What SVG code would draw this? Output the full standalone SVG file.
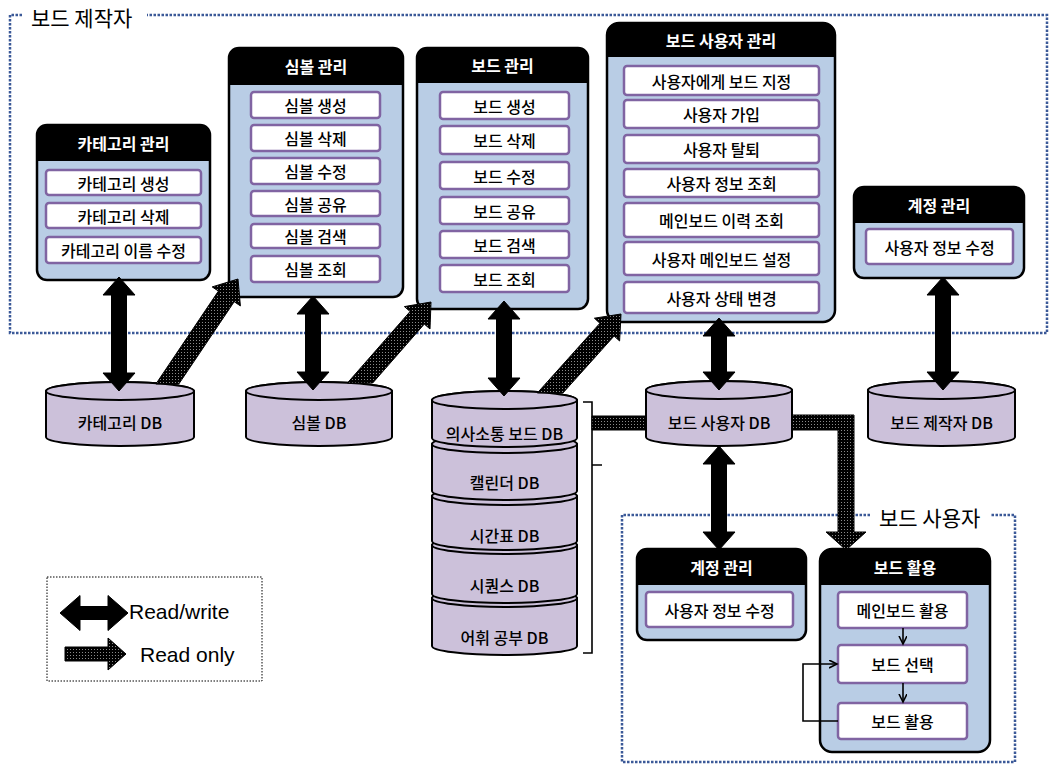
<svg xmlns="http://www.w3.org/2000/svg" width="1050" height="765" viewBox="0 0 1050 765">
<style>
.kr{font-family:"Noto Sans CJK KR","Noto Sans",sans-serif;text-anchor:middle;dominant-baseline:central}
.it{font-size:16px;font-weight:500;fill:#000}
.hd{font-size:16px;font-weight:bold;fill:#fff}
.ttl{font-size:21px;fill:#000;text-anchor:start}
.body{fill:#b9cde5;stroke:#000;stroke-width:2.5}
.head{fill:#000}
.item{fill:#fff;stroke:#8064a2;stroke-width:2.5}
.cyl{fill:#ccc1da;stroke:#000;stroke-width:2}
.frame{fill:none;stroke:#3b5998;stroke-width:2.5;stroke-dasharray:2.5 1.5}
.rw{fill:#000;stroke:#000;stroke-width:1}
.ro{fill:url(#dots);stroke:#000;stroke-width:1}
.thin{fill:none;stroke:#000;stroke-width:1.6}
.leg{font-family:"Liberation Sans",Arial,sans-serif;font-size:21px;fill:#000}
</style>
<defs>
<pattern id="dots" width="3" height="3" patternUnits="userSpaceOnUse">
<rect width="3" height="3" fill="#000"/>
<rect x="1" y="1" width="1" height="1" fill="#8a8a8a"/>
</pattern>
<marker id="v" markerWidth="10" markerHeight="10" refX="8" refY="4" orient="auto" markerUnits="userSpaceOnUse">
<path d="M0,0 L8,4 L0,8" fill="none" stroke="#000" stroke-width="1.6"/>
</marker>
</defs>
<rect width="1050" height="765" fill="#fff"/>

<g id="frame-maker">
<path class="frame" d="M22 15 H10 V333 H1047 V15 H147"/>
<text class="kr ttl" x="31" y="17">보드 제작자</text>
</g>
<g id="frame-user">
<path class="frame" d="M870 515 H622 V762 H1015 V515 H990"/>
<text class="kr ttl" x="879" y="517">보드 사용자</text>
</g>

<g id="legend">
<rect x="47" y="577" width="215" height="104" fill="none" stroke="#000" stroke-width="1" stroke-dasharray="1.5 1.5"/>
<polygon class="rw" points="60,613 80,595.5 80,606.5 108,606.5 108,595.5 128,613 108,630.5 108,619.5 80,619.5 80,630.5"/>
<text class="leg" x="129" y="619">Read/write</text>
<polygon class="ro" points="65,647 108,647 108,638 126,654 108,670 108,661 65,661"/>
<text class="leg" x="140" y="662">Read only</text>
</g>

<g id="category-mgmt">
<rect class="body" x="37" y="125" width="173" height="155" rx="10"/>
<path class="head" d="M37 135 a10 10 0 0 1 10 -10 H200 a10 10 0 0 1 10 10 V161 H37 Z"/>
<text class="kr hd" x="123.5" y="143">카테고리 관리</text>
<rect class="item" x="46" y="170" width="155" height="25" rx="3"/><text class="kr it" x="123.5" y="182.5">카테고리 생성</text>
<rect class="item" x="46" y="203" width="155" height="25" rx="3"/><text class="kr it" x="123.5" y="215.5">카테고리 삭제</text>
<rect class="item" x="46" y="237" width="155" height="26" rx="3"/><text class="kr it" x="123.5" y="250">카테고리 이름 수정</text>
</g>

<g id="symbol-mgmt">
<rect class="body" x="229" y="48" width="174" height="249" rx="10"/>
<path class="head" d="M229 58 a10 10 0 0 1 10 -10 H393 a10 10 0 0 1 10 10 V85 H229 Z"/>
<text class="kr hd" x="316" y="66">심볼 관리</text>
<rect class="item" x="251" y="92" width="129" height="26" rx="3"/><text class="kr it" x="315.5" y="105">심볼 생성</text>
<rect class="item" x="251" y="125" width="129" height="26" rx="3"/><text class="kr it" x="315.5" y="138">심볼 삭제</text>
<rect class="item" x="251" y="158" width="129" height="26" rx="3"/><text class="kr it" x="315.5" y="171">심볼 수정</text>
<rect class="item" x="251" y="191" width="129" height="25" rx="3"/><text class="kr it" x="315.5" y="203.5">심볼 공유</text>
<rect class="item" x="251" y="224" width="129" height="24" rx="3"/><text class="kr it" x="315.5" y="236">심볼 검색</text>
<rect class="item" x="251" y="256" width="129" height="26" rx="3"/><text class="kr it" x="315.5" y="269">심볼 조회</text>
</g>

<g id="board-mgmt">
<rect class="body" x="417" y="48" width="171" height="261" rx="10"/>
<path class="head" d="M417 58 a10 10 0 0 1 10 -10 H578 a10 10 0 0 1 10 10 V83 H417 Z"/>
<text class="kr hd" x="502.5" y="65">보드 관리</text>
<rect class="item" x="440" y="92" width="129" height="27" rx="3"/><text class="kr it" x="504.5" y="105.5">보드 생성</text>
<rect class="item" x="440" y="126" width="129" height="28" rx="3"/><text class="kr it" x="504.5" y="140">보드 삭제</text>
<rect class="item" x="440" y="162" width="129" height="27" rx="3"/><text class="kr it" x="504.5" y="175.5">보드 수정</text>
<rect class="item" x="440" y="197" width="129" height="27" rx="3"/><text class="kr it" x="504.5" y="210.5">보드 공유</text>
<rect class="item" x="440" y="231" width="129" height="27" rx="3"/><text class="kr it" x="504.5" y="244.5">보드 검색</text>
<rect class="item" x="440" y="265" width="129" height="27" rx="3"/><text class="kr it" x="504.5" y="278.5">보드 조회</text>
</g>

<g id="user-mgmt">
<rect class="body" x="607" y="23" width="228" height="299" rx="12"/>
<path class="head" d="M607 33 a10 10 0 0 1 10 -10 H825 a10 10 0 0 1 10 10 V57 H607 Z"/>
<text class="kr hd" x="721" y="40">보드 사용자 관리</text>
<rect class="item" x="624" y="66" width="195" height="29" rx="3"/><text class="kr it" x="721.5" y="80.5">사용자에게 보드 지정</text>
<rect class="item" x="624" y="100" width="195" height="28" rx="3"/><text class="kr it" x="721.5" y="114">사용자 가입</text>
<rect class="item" x="624" y="135" width="195" height="28" rx="3"/><text class="kr it" x="721.5" y="149">사용자 탈퇴</text>
<rect class="item" x="624" y="169" width="195" height="28" rx="3"/><text class="kr it" x="721.5" y="183">사용자 정보 조회</text>
<rect class="item" x="624" y="203" width="195" height="34" rx="3"/><text class="kr it" x="721.5" y="220">메인보드 이력 조회</text>
<rect class="item" x="624" y="242" width="195" height="33" rx="3"/><text class="kr it" x="721.5" y="258.5">사용자 메인보드 설정</text>
<rect class="item" x="624" y="282" width="195" height="31" rx="3"/><text class="kr it" x="721.5" y="297.5">사용자 상태 변경</text>
</g>

<g id="account-mgmt-maker">
<rect class="body" x="854" y="187" width="170" height="91" rx="10"/>
<path class="head" d="M854 197 a10 10 0 0 1 10 -10 H1014 a10 10 0 0 1 10 10 V223 H854 Z"/>
<text class="kr hd" x="939" y="205">계정 관리</text>
<rect class="item" x="866" y="229" width="147" height="35" rx="3"/><text class="kr it" x="939.5" y="246.5">사용자 정보 수정</text>
</g>

<g id="account-mgmt-user">
<rect class="body" x="637" y="549" width="169" height="91" rx="10"/>
<path class="head" d="M637 559 a10 10 0 0 1 10 -10 H796 a10 10 0 0 1 10 10 V585 H637 Z"/>
<text class="kr hd" x="721.5" y="567">계정 관리</text>
<rect class="item" x="646" y="592" width="147" height="35" rx="3"/><text class="kr it" x="719.5" y="609.5">사용자 정보 수정</text>
</g>

<g id="board-use">
<rect class="body" x="820" y="549" width="170" height="203" rx="12"/>
<path class="head" d="M820 559 a10 10 0 0 1 10 -10 H980 a10 10 0 0 1 10 10 V585 H820 Z"/>
<text class="kr hd" x="905" y="567">보드 활용</text>
<rect class="item" x="838" y="592" width="129" height="36" rx="3"/><text class="kr it" x="902.5" y="610">메인보드 활용</text>
<rect class="item" x="838" y="645" width="129" height="38" rx="3"/><text class="kr it" x="902.5" y="664">보드 선택</text>
<rect class="item" x="838" y="703" width="129" height="36" rx="3"/><text class="kr it" x="902.5" y="721">보드 활용</text>
</g>

<g id="db-category">
<path class="cyl" d="M46 391 V437 A74 9 0 0 0 194 437 V391 A74 9 0 0 0 46 391 Z"/>
<ellipse class="cyl" cx="120" cy="391" rx="74" ry="9"/>
<text class="kr it" x="120" y="422">카테고리 DB</text>
</g>
<g id="db-symbol">
<path class="cyl" d="M246 391 V437 A73 9 0 0 0 392 437 V391 A73 9 0 0 0 246 391 Z"/>
<ellipse class="cyl" cx="319" cy="391" rx="73" ry="9"/>
<text class="kr it" x="319" y="422">심볼 DB</text>
</g>
<g id="db-board-user">
<path class="cyl" d="M646 390 V437 A73 9 0 0 0 792 437 V390 A73 9 0 0 0 646 390 Z"/>
<ellipse class="cyl" cx="719" cy="390" rx="73" ry="9"/>
<text class="kr it" x="719" y="422">보드 사용자 DB</text>
</g>
<g id="db-board-maker">
<path class="cyl" d="M868 390 V437 A73.5 9 0 0 0 1015 437 V390 A73.5 9 0 0 0 868 390 Z"/>
<ellipse class="cyl" cx="941.5" cy="390" rx="73.5" ry="9"/>
<text class="kr it" x="941.5" y="422">보드 제작자 DB</text>
</g>

<g id="db-stack">
<path class="cyl" d="M432 598 V646 A72.5 9 0 0 0 577 646 V598 A72.5 9 0 0 0 432 598 Z"/>
<ellipse class="cyl" cx="504.5" cy="598" rx="72.5" ry="9"/>
<text class="kr it" x="504.5" y="637">어휘 공부 DB</text>
<path class="cyl" d="M432 545 V594 A72.5 9 0 0 0 577 594 V545 A72.5 9 0 0 0 432 545 Z"/>
<ellipse class="cyl" cx="504.5" cy="545" rx="72.5" ry="9"/>
<text class="kr it" x="504.5" y="585">시퀀스 DB</text>
<path class="cyl" d="M432 496 V541 A72.5 9 0 0 0 577 541 V496 A72.5 9 0 0 0 432 496 Z"/>
<ellipse class="cyl" cx="504.5" cy="496" rx="72.5" ry="9"/>
<text class="kr it" x="504.5" y="535">시간표 DB</text>
<path class="cyl" d="M432 444 V491 A72.5 9 0 0 0 577 491 V444 A72.5 9 0 0 0 432 444 Z"/>
<ellipse class="cyl" cx="504.5" cy="444" rx="72.5" ry="9"/>
<text class="kr it" x="504.5" y="482">캘린더 DB</text>
<path class="cyl" d="M432 400 V438 A72.5 9 0 0 0 577 438 V400 A72.5 9 0 0 0 432 400 Z"/>
<ellipse class="cyl" cx="504.5" cy="400" rx="72.5" ry="9"/>
<text class="kr it" x="504.5" y="433">의사소통 보드 DB</text>
<path class="thin" d="M583 402 H592 V653 H583 M592 465 H602"/>
</g>

<g id="connectors">
<polygon class="rw" points="119,277 135,295 126.5,295 126.5,373 135,373 119,391 103,373 111.5,373 111.5,295 103,295"/>
<polygon class="rw" points="313,296 329,314 320.5,314 320.5,372 329,372 313,390 297,372 305.5,372 305.5,314 297,314"/>
<polygon class="rw" points="504,301 520,319 511.5,319 511.5,378 520,378 504,396 488,378 496.5,378 496.5,319 488,319"/>
<polygon class="rw" points="719,318 735,336 726.5,336 726.5,372 735,372 719,390 703,372 711.5,372 711.5,336 703,336"/>
<polygon class="rw" points="943,277 959,295 950.5,295 950.5,372 959,372 943,390 927,372 935.5,372 935.5,295 927,295"/>
<polygon class="rw" points="719,446 735,464 726.5,464 726.5,532 735,532 719,550 703,532 711.5,532 711.5,464 703,464"/>
<polygon class="ro" points="238,279 240.4,305.9 234.2,301.7 178.8,384 155.9,384 218.4,291.1 212.2,286.9"/>
<polygon class="ro" points="431,302 430,329 424.3,324.1 372.7,383 347.4,383 410.1,311.5 404.4,306.6"/>
<polygon class="ro" points="621,314 619.6,341 614.1,336 562.9,393 537.3,393 599.9,323.3 594.4,318.2"/>
<polygon class="ro" points="592,416 646,416 646,430 592,430"/>
<polygon class="ro" points="792,415 854,415 854,532 866,532 846,550 826,532 838,532 838,430 792,430"/>
<line class="thin" x1="903" y1="628" x2="903" y2="644" marker-end="url(#v)"/>
<line class="thin" x1="903" y1="683" x2="903" y2="702" marker-end="url(#v)"/>
<polyline class="thin" points="838,721 803,721 803,664 837,664" marker-end="url(#v)"/>
</g>
</svg>
